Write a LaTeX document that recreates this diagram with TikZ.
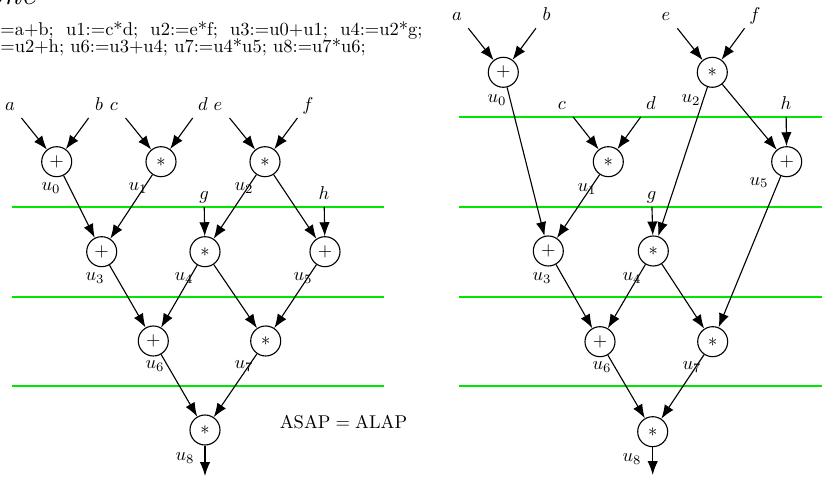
\documentclass[tikz,border=0pt]{standalone}
\usepackage{amsmath}
\usetikzlibrary{arrows.meta}
\definecolor{sched}{HTML}{00E600}
\tikzset{op/.style={draw,circle,semithick,minimum size=16.2pt,inner sep=0pt},
inp/.style={anchor=south,inner sep=4pt,text height=7pt,text depth=0pt},
flow/.style={-{Latex[length=7.5pt,width=5.6pt]},semithick},
cstep/.style={draw=sched,line width=0.8pt},
ulab/.style={inner sep=0pt},
prog/.style={anchor=base west,inner sep=0pt,font=\fontsize{10}{12}\selectfont}}

\begin{document}
\begin{tikzpicture}[x=0.54pt,y=-0.54pt]
\useasboundingbox (0,0) rectangle (822,477);
\clip (0,0) rectangle (822,477);
% heading and program text
\node[anchor=base west,inner sep=0pt,font=\LARGE\itshape] (title) at (-13,5) {one};
\node[prog] (code1) at (0,36) {\makebox[228pt][s]{=a+b; u1:=c*d; u2:=e*f; u3:=u0+u1; u4:=u2*g;}};
\node[prog] (code2) at (0,53) {=u2+h; u6:=u3+u4; u7:=u4*u5; u8:=u7*u6;};
% left: ASAP = ALAP
\draw[cstep] (11.7,207) -- (384,207);
\draw[cstep] (11.7,297) -- (384,297);
\draw[cstep] (11.7,386) -- (384,386);
\node[inp] (la) at (10,118) {$a$};
\node[inp] (lb) at (99,118) {$b$};
\node[inp] (lc) at (114,118) {$c$};
\node[inp] (ld) at (203,118) {$d$};
\node[inp] (le) at (218,118) {$e$};
\node[inp] (lf) at (308,118) {$f$};
\node[inp] (lg) at (204,207) {$g$};
\node[inp] (lh) at (324,207) {$h$};
\node[op] (lu0) at (56.7,161.7) {$+$};
\node[op] (lu1) at (161,161.7) {$*$};
\node[op] (lu2) at (265,161.7) {$*$};
\node[op] (lu3) at (101.7,251.7) {$+$};
\node[op] (lu4) at (205,251.7) {$*$};
\node[op] (lu5) at (325,251.7) {$+$};
\node[op] (lu6) at (153.3,341) {$+$};
\node[op] (lu7) at (265.7,341) {$*$};
\node[op] (lu8) at (205,430) {$*$};
\coordinate (lout) at (205,476);
\node[ulab] (ln0) at (51,188) {$u_0$};
\node[ulab] (ln1) at (138,188) {$u_1$};
\node[ulab] (ln2) at (244,188) {$u_2$};
\node[ulab] (ln3) at (95,278) {$u_3$};
\node[ulab] (ln4) at (184,278) {$u_4$};
\node[ulab] (ln5) at (303,278) {$u_5$};
\node[ulab] (ln6) at (155,366) {$u_6$};
\node[ulab] (ln7) at (244,366) {$u_7$};
\node[ulab] (ln8) at (185,458) {$u_8$};
\draw[flow] (la)--(lu0); \draw[flow] (lb)--(lu0);
\draw[flow] (lc)--(lu1); \draw[flow] (ld)--(lu1);
\draw[flow] (le)--(lu2); \draw[flow] (lf)--(lu2);
\draw[flow] (lu0)--(lu3); \draw[flow] (lu1)--(lu3);
\draw[flow] (lg)--(lu4); \draw[flow] (lu2)--(lu4);
\draw[flow] (lu2)--(lu5); \draw[flow] (lh)--(lu5);
\draw[flow] (lu3)--(lu6); \draw[flow] (lu4)--(lu6);
\draw[flow] (lu4)--(lu7); \draw[flow] (lu5)--(lu7);
\draw[flow] (lu6)--(lu8); \draw[flow] (lu7)--(lu8);
\draw[flow] (lu8)--(lout);
\node (eq) at (343.5,422) {$\mathrm{ASAP}=\mathrm{ALAP}$};
% right: shifted schedule
\draw[cstep] (459,117) -- (822,117);
\draw[cstep] (459,207) -- (822,207);
\draw[cstep] (459,297) -- (822,297);
\draw[cstep] (459,386) -- (822,386);
\node[inp] (ra) at (457,28.3) {$a$};
\node[inp] (rb) at (546.5,28.3) {$b$};
\node[inp] (re) at (666,28.3) {$e$};
\node[inp] (rf) at (755,28.3) {$f$};
\node[inp] (rc) at (562,117) {$c$};
\node[inp] (rd) at (651,117) {$d$};
\node[inp] (rh) at (786,117) {$h$};
\node[inp] (rg) at (651.5,207) {$g$};
\node[op] (ru0) at (503.3,72.3) {$+$};
\node[op] (ru2) at (712.3,72.3) {$*$};
\node[op] (ru1) at (608.3,161.7) {$*$};
\node[op] (ru5) at (786.7,161.7) {$+$};
\node[op] (ru3) at (548.3,251) {$+$};
\node[op] (ru4) at (653.3,251) {$*$};
\node[op] (ru6) at (600,341.7) {$+$};
\node[op] (ru7) at (712.7,341.7) {$*$};
\node[op] (ru8) at (652.7,431.7) {$*$};
\coordinate (rout) at (652.7,475);
\node[ulab] (rn0) at (497,100) {$u_0$};
\node[ulab] (rn2) at (691,100) {$u_2$};
\node[ulab] (rn1) at (587,189) {$u_1$};
\node[ulab] (rn5) at (759,182.5) {$u_5$};
\node[ulab] (rn3) at (542,278) {$u_3$};
\node[ulab] (rn4) at (632,278) {$u_4$};
\node[ulab] (rn6) at (602,367) {$u_6$};
\node[ulab] (rn7) at (692,367) {$u_7$};
\node[ulab] (rn8) at (632,459) {$u_8$};
\draw[flow] (ra)--(ru0); \draw[flow] (rb)--(ru0);
\draw[flow] (re)--(ru2); \draw[flow] (rf)--(ru2);
\draw[flow] (rc)--(ru1); \draw[flow] (rd)--(ru1);
\draw[flow] (ru2)--(ru5); \draw[flow] (rh)--(ru5);
\draw[flow] (ru0)--(ru3); \draw[flow] (ru1)--(ru3);
\draw[flow] (rg)--(ru4); \draw[flow] (ru2)--(ru4);
\draw[flow] (ru3)--(ru6); \draw[flow] (ru4)--(ru6);
\draw[flow] (ru4)--(ru7); \draw[flow] (ru5)--(ru7);
\draw[flow] (ru6)--(ru8); \draw[flow] (ru7)--(ru8);
\draw[flow] (ru8)--(rout);
\end{tikzpicture}
\end{document}
